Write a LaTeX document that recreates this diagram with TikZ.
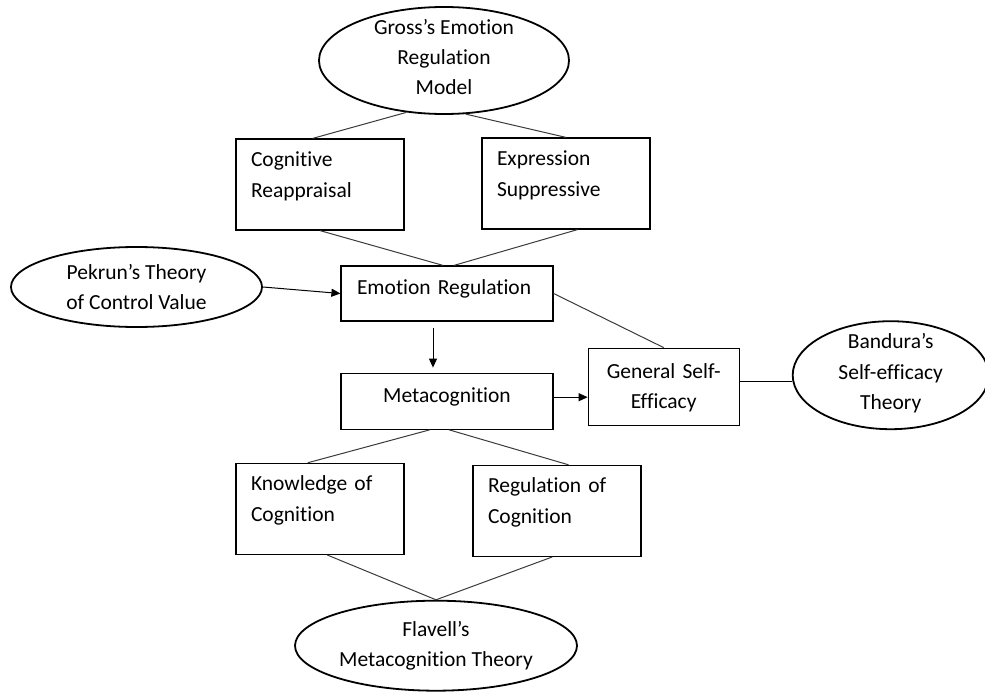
\documentclass[tikz,border=0pt]{standalone}
\usepackage{fontspec}
\setmainfont{Carlito}[Ligatures={NoCommon}]
\usetikzlibrary{arrows.meta, positioning, shapes.geometric}
\definecolor{linkgray}{HTML}{3A3A3A}

\begin{document}
\begin{tikzpicture}[
    x=1pt, y=-1pt,
    font=\fontsize{21.5}{30.5}\selectfont,
    conceptbox/.style={
        draw,
        rectangle,
        line width=1.2pt,
        inner xsep=15pt,
        inner ysep=0pt,
        text width=138pt,
        align=left,
        text height=27.5pt,
        text depth=63.5pt
    },
    theory/.style={
        draw,
        ellipse,
        line width=1.8pt,
        inner sep=0pt,
        align=center
    },
    link/.style={
        linkgray,
        line width=1pt
    },
    arrowlink/.style={
        -{Triangle[length=9pt, width=8pt]},
        line width=1pt,
        black
    }
]
    \useasboundingbox (0,0) rectangle (985,693);

    \node[conceptbox, text width=180pt, inner xsep=16pt, text height=28pt, text depth=27pt] (emoreg) at (447,293.5) {Emotion Regulation};
    \node[conceptbox, align=center, text width=182pt, text height=29pt, text depth=27pt, below=51pt of emoreg] (meta) {Metacognition};

    \node[theory, minimum width=250pt, minimum height=107pt, text height=72pt, text depth=3pt,
          above=150.5pt of emoreg, xshift=-3pt] (gross) {Gross’s Emotion\\Regulation\\Model};
    \node[conceptbox, below=23.5pt of gross, xshift=-124pt] (cogbox) {Cognitive\\Reappraisal};
    \node[conceptbox, below=22.5pt of gross, xshift=122pt] (exprbox) {Expression\\Suppressive};

    \node[theory, minimum width=251pt, minimum height=80pt, left=77.5pt of emoreg, yshift=6.5pt] (pekrun) {Pekrun’s Theory\\of Control Value};

    \node[conceptbox, align=center, text width=121pt, text height=30pt, text depth=47pt,
          right=34pt of meta, yshift=14.5pt] (gse) {General Self-\\Efficacy};
    \node[theory, minimum width=196pt, minimum height=108pt, text height=72pt, text depth=3pt,
          right=52pt of gse, yshift=11.5pt] (bandura) {Bandura’s\\Self-efficacy\\Theory};

    \node[conceptbox, below=33pt of meta, xshift=-127pt] (knowbox) {Knowledge of\\Cognition};
    \node[conceptbox, below=35pt of meta, xshift=110pt] (regbox) {Regulation of\\Cognition};
    \node[theory, minimum width=282pt, minimum height=90pt, below=170pt of meta, xshift=-11pt] (flavell) {Flavell’s\\Metacognition Theory};

    \draw[link] (gross.-126) -- (cogbox.99);
    \draw[link] (gross.-68) -- (exprbox.north);
    \draw[link] (cogbox.south) -- (emoreg.98);
    \draw[link] (exprbox.-76) -- (emoreg.76);

    \draw[arrowlink] (pekrun.east) -- (emoreg.west);
    \draw[arrowlink, shorten <=6pt, shorten >=5pt] ([xshift=-14pt]emoreg.south) -- ([xshift=-14pt]meta.north);
    \draw[arrowlink] ([yshift=4pt]meta.east) -- ([yshift=4pt]meta.east -| gse.west);

    \draw[link] (emoreg.east) -- (gse.north);
    \draw[link, black] ([yshift=5pt]gse.east) -- ([yshift=5pt]gse.east -| bandura.west);

    \draw[link] (meta.-121) -- (knowbox.105);
    \draw[link] (meta.-86) -- (regbox.76);
    \draw[link] (knowbox.-81) -- (flavell.north);
    \draw[link] (regbox.-96) -- (flavell.north);
\end{tikzpicture}
\end{document}
